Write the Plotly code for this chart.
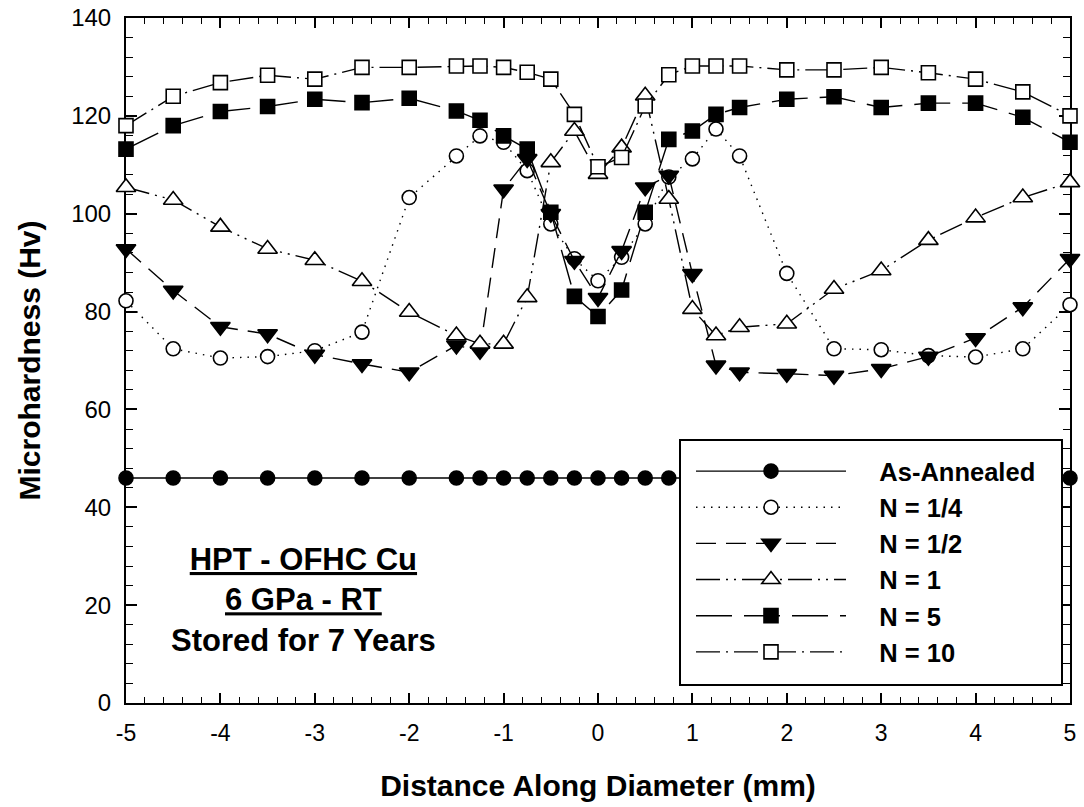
import plotly.graph_objects as go

# ---------------- data ----------------
x_mm = [-5, -4.5, -4, -3.5, -3, -2.5, -2, -1.5, -1.25, -1, -0.75, -0.5, -0.25, 0,
        0.25, 0.5, 0.75, 1, 1.25, 1.5, 2, 2.5, 3, 3.5, 4, 4.5, 5]

hv_annealed = [46.0] * 27

hv_n_quarter = [82.2, 72.4, 70.5, 70.8, 72.0, 75.8, 103.3, 111.8, 115.9, 114.6, 108.8, 97.9, 90.8, 86.3,
                91.1, 97.9, 107.5, 111.2, 117.3, 111.8, 87.8, 72.4, 72.2, 71.0, 70.7, 72.4, 81.4]

hv_n_half = [92.8, 84.3, 76.9, 75.4, 71.2, 69.3, 67.6, 73.1, 72.0, 105.0, 111.2, 100.0, 90.4, 82.8,
             92.4, 105.4, 107.8, 87.7, 69.0, 67.6, 67.3, 66.9, 68.3, 70.8, 74.6, 80.9, 90.8]

hv_n1 = [105.4, 102.8, 97.3, 92.8, 90.5, 86.2, 79.9, 75.1, 73.4, 73.4, 82.9, 110.5, 116.9, 108.1,
         113.5, 124.1, 103.0, 80.5, 75.1, 76.8, 77.5, 84.6, 88.4, 94.6, 99.2, 103.3, 106.4]

hv_n5 = [113.2, 118.0, 120.9, 121.9, 123.4, 122.7, 123.6, 121.0, 119.1, 115.9, 113.2, 100.3, 83.1, 79.0,
         84.4, 100.3, 115.2, 116.9, 120.3, 121.7, 123.4, 123.9, 121.7, 122.6, 122.6, 119.7, 114.6]

hv_n10 = [118.0, 124.0, 126.8, 128.3, 127.5, 129.9, 129.9, 130.2, 130.2, 129.9, 128.9, 127.5, 120.3, 109.6,
          111.5, 122.0, 128.4, 130.2, 130.2, 130.2, 129.4, 129.4, 129.9, 128.8, 127.5, 124.9, 120.0]

series_names = ["As-Annealed", "N = 1/4", "N = 1/2", "N = 1", "N = 5", "N = 10"]
series_values = [hv_annealed, hv_n_quarter, hv_n_half, hv_n1, hv_n5, hv_n10]

x_tick_vals = [-5, -4, -3, -2, -1, 0, 1, 2, 3, 4, 5]
x_tick_text = ["-5", "-4", "-3", "-2", "-1", "0", "1", "2", "3", "4", "5"]

annotation_lines = ["<u>HPT - OFHC Cu</u>", "<u>6 GPa - RT</u>", "Stored for 7 Years"]

# ---------------- styles ----------------
FONT = "Liberation Sans, Arial, sans-serif"
LEGEND_PAD = "\u00a0" * 4
styles = [
    dict(dash="solid", symbol="circle", fill="black", size=14),
    dict(dash="1.5px,6px", symbol="circle", fill="white", size=14),
    dict(dash="20px,10px", symbol="triangle-down", fill="black", size=17),
    dict(dash="24px,6px,2px,6px,2px,6px", symbol="triangle-up", fill="white", size=17),
    dict(dash="36px,12px", symbol="square", fill="black", size=14),
    dict(dash="24px,6px,2px,6px", symbol="square", fill="white", size=14),
]

fig = go.Figure()
for name, vals, st in zip(series_names, series_values, styles):
    fig.add_trace(go.Scatter(
        x=x_mm, y=vals, name=LEGEND_PAD + name, mode="lines+markers",
        line=dict(color="black", width=1.4, dash=st["dash"]),
        marker=dict(symbol=st["symbol"], size=st["size"], color=st["fill"],
                    line=dict(color="black", width=1.6)),
        cliponaxis=False,
    ))

fig.add_annotation(
    x=-3.12, y=21, xref="x", yref="y",
    text="<br>".join(annotation_lines),
    showarrow=False, align="center", xanchor="center", yanchor="middle",
    font=dict(family=FONT, size=31, color="black", weight="bold"),
)

# legend box (white, covers the curves beneath it)
PL, PR, PT, PB = 126, 1070, 18, 703
def px_x(p):
    return (p - PL) / (PR - PL)
def px_y(p):
    return (PB - p) / (PB - PT)

fig.add_shape(
    type="rect", xref="paper", yref="paper",
    x0=px_x(680), x1=px_x(1062), y0=px_y(685), y1=px_y(440),
    fillcolor="white", line=dict(color="black", width=2), layer="above",
)

axis_common = dict(
    showline=True, linecolor="black", linewidth=2, mirror="ticks",
    ticks="inside", tickcolor="black", tickwidth=1.5,
    showgrid=False, zeroline=False, layer="below traces",
)

fig.update_xaxes(
    range=[-5, 5], tickmode="array", tickvals=x_tick_vals, ticktext=x_tick_text, ticklen=10,
    minor=dict(ticks="inside", dtick=0.2, tick0=0, ticklen=6, tickcolor="black", tickwidth=1.2),
    tickfont=dict(family=FONT, size=23, color="black"),
    ticklabelstandoff=8,
    title=dict(text="<b>Distance Along Diameter (mm)</b>", standoff=30,
               font=dict(family=FONT, size=30, color="black")),
    **axis_common,
)
fig.update_yaxes(
    range=[0, 140], dtick=20, tick0=0, ticklen=11,
    minor=dict(ticks="inside", dtick=4, ticklen=7, tickcolor="black", tickwidth=1.2),
    tickfont=dict(family=FONT, size=24, color="black"),
    ticklabelstandoff=8,
    title=dict(text="<b>Microhardness (Hv)</b>", standoff=22,
               font=dict(family=FONT, size=30, color="black")),
    **axis_common,
)

fig.update_layout(
    width=1084, height=807,
    margin=dict(l=PL, r=1084 - PR, t=PT, b=807 - PB, autoexpand=False),
    paper_bgcolor="white", plot_bgcolor="white",
    showlegend=True,
    legend=dict(
        x=px_x(691), y=px_y(448), xanchor="left", yanchor="top",
        bgcolor="rgba(0,0,0,0)", borderwidth=0,
        font=dict(family=FONT, size=25.5, color="black", weight="bold"),
        itemwidth=150, tracegroupgap=0,
    ),
)

fig.write_html("out.html")
